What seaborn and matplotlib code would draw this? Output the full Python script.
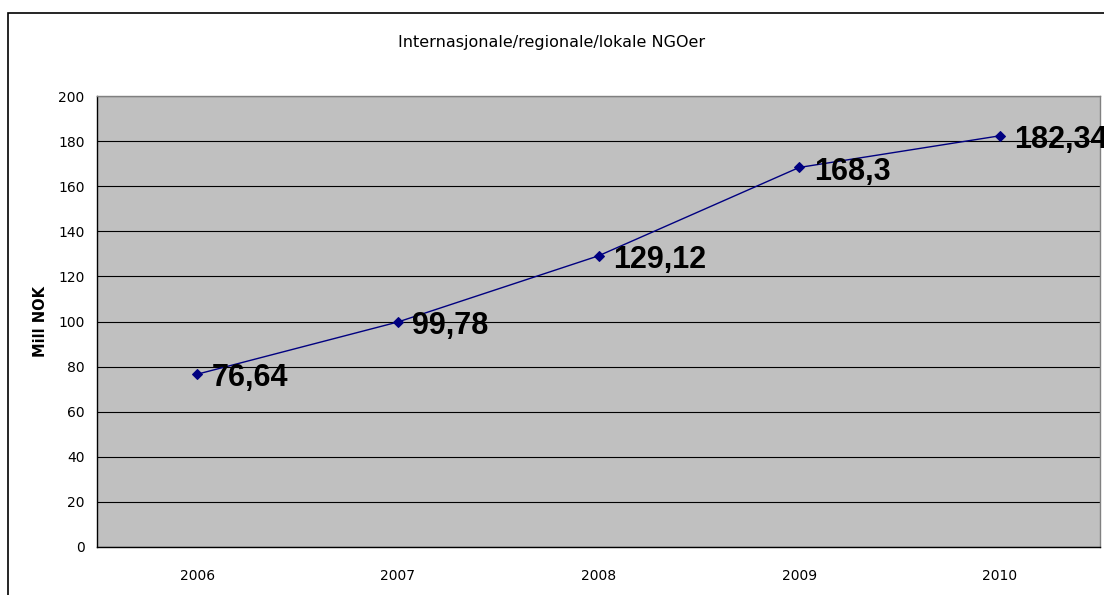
import matplotlib
matplotlib.use("Agg")
import matplotlib.pyplot as plt
from matplotlib import font_manager
from matplotlib.patches import Rectangle
import seaborn as sns
import pandas as pd

# -- Data ---------------------------------------
years  = [2006, 2007, 2008, 2009, 2010]
values = [76.64, 99.78, 129.12, 168.3, 182.34]
labels = ["76,64", "99,78", "129,12", "168,3", "182,34"]

TITLE   = "Internasjonale/regionale/lokale NGOer"
Y_LABEL = "Mill NOK"

df = pd.DataFrame({"year": years, "value": values})

sns.set_style("white")
plt.rcParams["font.family"] = ["DejaVu Sans"]
plt.rcParams["text.color"] = "black"
plt.rcParams["xtick.color"] = "black"
plt.rcParams["ytick.color"] = "black"
plt.rcParams["axes.labelcolor"] = "black"

# Arial-like bold for the data labels (avoid the Narrow variant)
label_font = font_manager.FontProperties(family="DejaVu Sans", weight="bold", size=21)
for f in font_manager.fontManager.ttflist:
    if (f.name == "Liberation Sans" and f.weight == 700 and f.style == "normal"
            and "Narrow" not in f.fname):
        label_font = font_manager.FontProperties(fname=f.fname, size=22)
        break

fig = plt.figure(figsize=(11.04, 5.95), dpi=100)
ax = fig.add_axes([97 / 1104, 1 - 547 / 595, (1100 - 97) / 1104, (547 - 96) / 595])
ax.set_facecolor("#C0C0C0")

# -- Line ---------------------------------------
sns.lineplot(
    data=df, x="year", y="value", ax=ax,
    color="#000080", linewidth=1.0,
    marker="D", markersize=5, markeredgecolor="#000080",
    zorder=3,
)

for yr, v, lab in zip(years, values, labels):
    ax.annotate(
        lab, xy=(yr, v), xytext=(10.5, -3), textcoords="offset points",
        fontproperties=label_font,
        va="center", ha="left", color="black", annotation_clip=False,
    )

# -- Axes styling -------------------------------
ax.set_xlim(years[0] - 0.5, years[-1] + 0.5)
ax.set_ylim(0, 200)
ax.set_xticks(years)
ax.set_xticklabels([str(y) for y in years])
ax.set_xticks([y - 0.5 for y in years] + [years[-1] + 0.5], minor=True)
ax.tick_params(axis="x", which="major", length=0, pad=16, labelsize=10)
ax.tick_params(axis="x", which="minor", length=4, width=1, direction="out", color="black")
ax.set_yticks(range(0, 201, 20))
ax.tick_params(axis="y", length=5, width=1, direction="out", color="black", labelsize=10, pad=4)

ax.grid(axis="y", color="black", linewidth=0.8)
ax.set_axisbelow(True)
for side in ["left", "bottom"]:
    ax.spines[side].set_color("black")
    ax.spines[side].set_linewidth(1.0)
for side in ["top", "right"]:
    ax.spines[side].set_color("#808080")
    ax.spines[side].set_linewidth(1.0)

ax.set_xlabel("")
ax.set_ylabel(Y_LABEL, fontsize=10.5, fontweight="bold", labelpad=7)
fig.text(0.5, 1 - 43 / 595, TITLE, ha="center", va="center", fontsize=11.5)

# outer chart border
fig.patches.append(Rectangle(
    (8 / 1104, -0.1), 1.2, 1 - 13 / 595 + 0.1,
    transform=fig.transFigure, fill=False, edgecolor="black", linewidth=1.2,
))

fig.savefig("out.png", dpi=100)
plt.close()
